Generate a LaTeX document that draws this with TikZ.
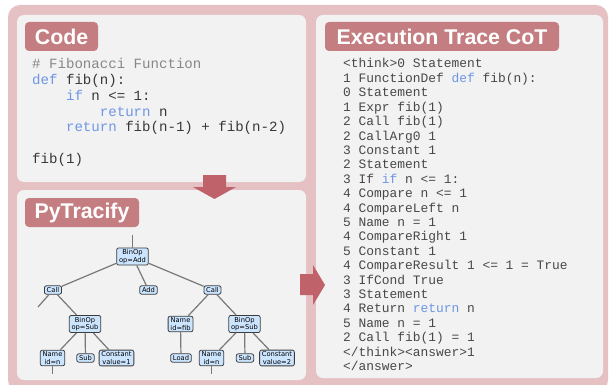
\documentclass[tikz,border=0pt]{standalone}
\usepackage{fontspec}
\setmainfont{Liberation Sans}
\newfontfamily\codefont{Liberation Mono}
\newfontfamily\treefont{DejaVu Sans}
\definecolor{pinkbg}{RGB}{229,193,195}
\definecolor{panel}{RGB}{241,242,241}
\definecolor{titlebg}{RGB}{196,126,130}
\definecolor{arrowc}{RGB}{192,98,106}
\definecolor{kw}{RGB}{110,150,230}
\definecolor{cmt}{RGB}{135,135,135}
\definecolor{codetxt}{RGB}{55,55,55}
\definecolor{tracetxt}{RGB}{72,72,72}
\definecolor{astfill}{RGB}{204,229,255}
\definecolor{astdraw}{RGB}{60,60,60}
\definecolor{astedgec}{RGB}{120,120,120}
\begin{document}
\begin{tikzpicture}[x=1pt,y=-1pt,
  titlebox/.style={fill=titlebg, rounded corners=4pt, text=white, font=\fontsize{21.3}{24}\selectfont\bfseries, minimum height=29pt, inner sep=0pt},
  codeline/.style={anchor=base west, inner sep=0pt, text=codetxt, font=\codefont\fontsize{14.1}{16}\selectfont},
  traceline/.style={anchor=base west, inner sep=0pt, text=tracetxt, font=\codefont\fontsize{12.9}{14}\selectfont},
  ast/.style={draw=astdraw, fill=astfill, rounded corners=2pt, line width=0.8pt, font=\treefont\fontsize{6.7}{7.5}\selectfont, align=center, inner xsep=2.3pt, inner ysep=1.6pt},
  astedge/.style={draw=astedgec, line width=1.2pt}]
\useasboundingbox (0,0) rectangle (610,385);
% backgrounds
\fill[pinkbg, rounded corners=12pt] (8,5) rectangle (608,392);
\fill[panel, rounded corners=7pt] (17,15) rectangle (306,182);
\fill[panel, rounded corners=7pt] (17,190) rectangle (306,380);
\fill[panel, rounded corners=7pt] (316,15) rectangle (603,378);
% block arrows
\fill[arrowc] (203,175) -- (226,175) -- (226,187) -- (236,187) -- (214.5,199) -- (193,187) -- (203,187) -- cycle;
\fill[arrowc] (300,274) -- (313,274) -- (313,265) -- (325,285) -- (313,305) -- (313,295) -- (300,295) -- cycle;
% titles
\node[titlebox, minimum width=73pt] (tcode) at (61.5,36.5) {Code};
\node[titlebox, minimum width=114pt] (tpy) at (82,212.5) {PyTracify};
\node[titlebox, minimum width=234pt] (ttrace) at (442,36.5) {Execution Trace CoT};
% code
\node[codeline] (c1) at (32,69) {{\color{cmt}\# Fibonacci Function}};
\node[codeline] (c2) at (32,84.7) {{\color{kw}def} fib(n):};
\node[codeline] (c3) at (32,100.4) {\hphantom{xxxx}{\color{kw}if} n <= 1:};
\node[codeline] (c4) at (32,116.1) {\hphantom{xxxxxxxx}{\color{kw}return} n};
\node[codeline] (c5) at (32,131.8) {\hphantom{xxxx}{\color{kw}return} fib(n-1) + fib(n-2)};
\node[codeline] (c6) at (32,163.2) {fib(1)};
% trace
\node[traceline] (l1) at (343,68.0) {<think>0 Statement};
\node[traceline] (l2) at (343,82.4) {1 FunctionDef {\color{kw}def} fib(n):};
\node[traceline] (l3) at (343,96.8) {0 Statement};
\node[traceline] (l4) at (343,111.2) {1 Expr fib(1)};
\node[traceline] (l5) at (343,125.6) {2 Call fib(1)};
\node[traceline] (l6) at (343,140.0) {2 CallArg0 1};
\node[traceline] (l7) at (343,154.4) {3 Constant 1};
\node[traceline] (l8) at (343,168.8) {2 Statement};
\node[traceline] (l9) at (343,183.2) {3 If {\color{kw}if} n <= 1:};
\node[traceline] (l10) at (343,197.6) {4 Compare n <= 1};
\node[traceline] (l11) at (343,212.0) {4 CompareLeft n};
\node[traceline] (l12) at (343,226.4) {5 Name n = 1};
\node[traceline] (l13) at (343,240.8) {4 CompareRight 1};
\node[traceline] (l14) at (343,255.2) {5 Constant 1};
\node[traceline] (l15) at (343,269.6) {4 CompareResult 1 <= 1 = True};
\node[traceline] (l16) at (343,284.0) {3 IfCond True};
\node[traceline] (l17) at (343,298.4) {3 Statement};
\node[traceline] (l18) at (343,312.8) {4 Return {\color{kw}return} n};
\node[traceline] (l19) at (343,327.2) {5 Name n = 1};
\node[traceline] (l20) at (343,341.6) {2 Call fib(1) = 1};
\node[traceline] (l21) at (343,356.0) {</think><answer>1};
\node[traceline] (l22) at (343,370.4) {</answer>};
% AST
\node[ast] (add) at (132.5,256.5) {BinOp\\op=Add};
\node[ast] (calll) at (53,290) {Call};
\node[ast] (addop) at (148.5,290) {Add};
\node[ast] (callr) at (212.5,290) {Call};
\node[ast] (subl) at (85,324) {BinOp\\op=Sub};
\node[ast] (namefib) at (180.5,324) {Name\\id=fib};
\node[ast] (subr) at (244.5,324) {BinOp\\op=Sub};
\node[ast] (namel) at (52.5,358) {Name\\id=n};
\node[ast] (subopl) at (85.5,358) {Sub};
\node[ast] (const1) at (116.5,358) {Constant\\value=1};
\node[ast] (load) at (181,358) {Load};
\node[ast] (namer) at (211.5,358) {Name\\id=n};
\node[ast] (subopr) at (245,358) {Sub};
\node[ast] (const2) at (277,358) {Constant\\value=2};
\coordinate (stubtop) at (132.5,235);
\coordinate (stubcall) at (38,307);
\coordinate (stubnl) at (52.5,374);
\coordinate (stubnr) at (211.5,374);
\draw[astedge] (stubtop) -- (add);
\draw[astedge] (add) -- (calll);
\draw[astedge] (add) -- (addop);
\draw[astedge] (add) -- (callr);
\draw[astedge] (calll) -- (stubcall);
\draw[astedge] (calll) -- (subl);
\draw[astedge] (callr) -- (namefib);
\draw[astedge] (callr) -- (subr);
\draw[astedge] (subl) -- (namel);
\draw[astedge] (subl) -- (subopl);
\draw[astedge] (subl) -- (const1);
\draw[astedge] (namefib) -- (load);
\draw[astedge] (subr) -- (namer);
\draw[astedge] (subr) -- (subopr);
\draw[astedge] (subr) -- (const2);
\draw[astedge] (namel) -- (stubnl);
\draw[astedge] (namer) -- (stubnr);
\end{tikzpicture}
\end{document}
